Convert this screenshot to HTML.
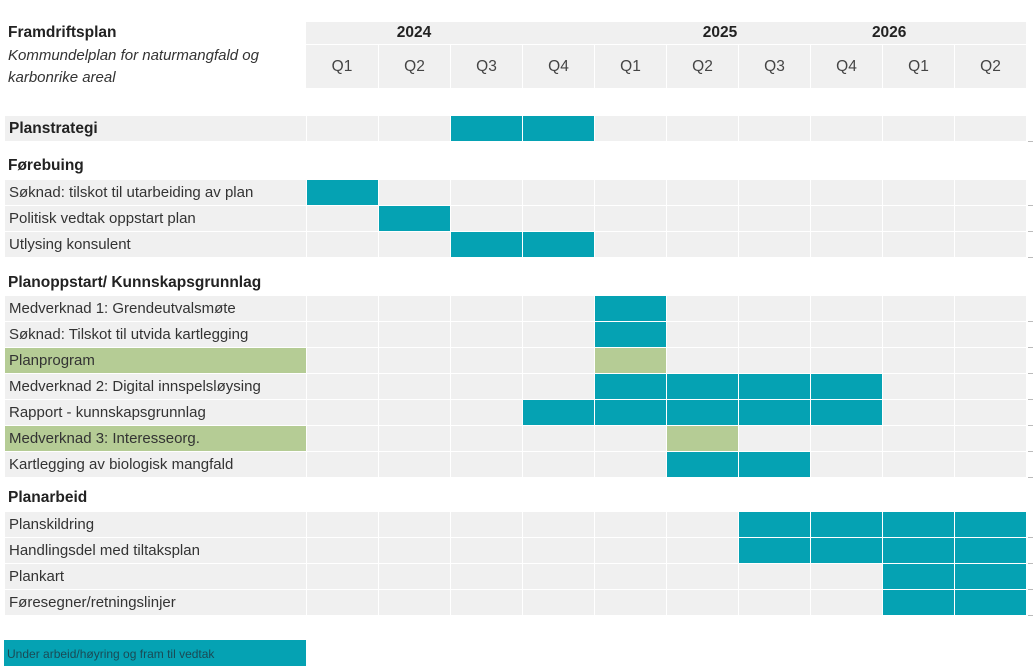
<!DOCTYPE html>
<html><head><meta charset="utf-8"><style>
body{margin:0;width:1033px;height:667px;background:#fff;position:relative;overflow:hidden;font-family:"Liberation Sans",sans-serif;color:#222}
.a{position:absolute;box-sizing:border-box}
.lbl{font-size:15px;line-height:25px;padding-left:4px;white-space:nowrap;color:#333}
.hd{font-size:15.5px;font-weight:bold;color:#222}
</style></head><body>
<div class="a hd" style="left:8px;top:24px">Framdriftsplan</div>
<div class="a" style="left:8px;top:45px;font-size:15px;font-style:italic;line-height:22px;color:#333">Kommundelplan for naturmangfald og<br>karbonrike areal</div>
<div id="g"></div>
<div class="a" style="left:4px;top:640px;width:302px;height:26px;background:#05a2b3;font-size:12px;line-height:28px;padding-left:3px;color:#1a4a55">Under arbeid/høyring og fram til vedtak</div>
<script>
const quarters=["Q1","Q2","Q3","Q4","Q1","Q2","Q3","Q4","Q1","Q2"];
const years=["2024","2025","2026"];
const yearCenters=[1.5,5.75,8.1]; // in quarter units
const labels=["Planstrategi","Søknad: tilskot til utarbeiding av plan","Politisk vedtak oppstart plan","Utlysing konsulent","Medverknad 1: Grendeutvalsmøte","Søknad: Tilskot til utvida kartlegging","Planprogram","Medverknad 2: Digital innspelsløysing","Rapport - kunnskapsgrunnlag","Medverknad 3: Interesseorg.","Kartlegging av biologisk mangfald","Planskildring","Handlingsdel med tiltaksplan","Plankart","Føresegner/retningslinjer"];
const starts=[2,0,1,2,4,4,4,4,3,5,5,6,6,8,8];
const ends=[4,1,2,4,5,5,5,8,8,6,7,10,10,10,10];
const greens=[false,false,false,false,false,false,true,false,false,true,false,false,false,false,false];
const rowTops=[115,179,205,231,295,321,347,373,399,425,451,511,537,563,589];
const headings=["Planstrategi","Førebuing","Planoppstart/ Kunnskapsgrunnlag","Planarbeid"];
const headingTops=[116,154,271,486];
const X0=306,QW=72,RH=25;
const g=document.getElementById('g');
const xq=i=>X0+i*QW;
function box(l,t,w,h,bg){const d=document.createElement('div');d.className='a';d.style.cssText=`left:${l}px;top:${t}px;width:${w}px;height:${h}px;background:${bg}`;g.appendChild(d);return d;}
// header
let yb=box(X0,22,QW*10,22,'#f0f0f0');


years.forEach((y,i)=>{const d=box(xq(yearCenters[i])-40,22,80,22,'transparent');d.textContent=y;d.style.cssText+=';text-align:center;font-size:15.5px;font-weight:bold;line-height:22px';

});
quarters.forEach((q,i)=>{const d=box(xq(i)+(i?1:0),45,QW-(i?1:0),43,'#f0f0f0');d.textContent=q;d.style.cssText+=';text-align:center;font-size:15.5px;line-height:43px;color:#444';

});
headings.forEach((h,i)=>{if(i===0)return;const d=box(8,headingTops[i],300,24,'transparent');d.className='a hd';d.textContent=h;d.style.lineHeight='24px';

});
labels.forEach((l,r)=>{const t=rowTops[r]+1;
const lb=box(5,t,301,RH,greens[r]?'#b5cc95':'#f0f0f0');lb.className='a lbl';if(r===0){lb.style.fontWeight='bold';lb.style.fontSize='15.5px';lb.style.color='#222';}lb.textContent=l;


for(let i=0;i<10;i++){const on=i>=starts[r]&&i<ends[r];const c=on?(greens[r]?'#b5cc95':'#05a2b3'):'#f0f0f0';
const cell=box(xq(i)+1,t,QW-1,RH,c);

}
const tk=box(1028,t+RH,5,1,'#bbb');

});
</script>
</body></html>
